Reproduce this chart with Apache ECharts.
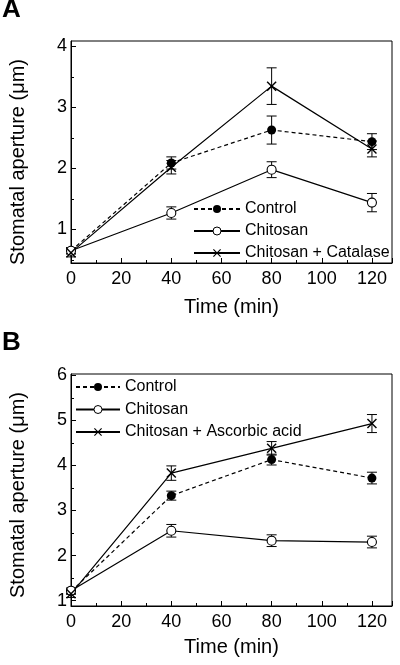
<!DOCTYPE html>
<html>
<head>
<meta charset="utf-8">
<script src="https://cdn.jsdelivr.net/npm/echarts@6/dist/echarts.min.js"></script>
<style>
html,body{margin:0;padding:0;background:#fff;}
#chart{width:400px;height:665px;}
</style>
</head>
<body>
<div id="chart"></div>
<script>
// ---- Data ----
const timeMin = [0, 40, 80, 120];

// Panel A
const controlA = [0.65, 2.09, 2.63, 2.44];
const controlAErr = [0.05, 0.10, 0.23, 0.13];
const chitosanA = [0.65, 1.27, 1.98, 1.44];
const chitosanAErr = [0.05, 0.10, 0.13, 0.15];
const catalaseA = [0.62, 2.02, 3.35, 2.32];
const catalaseAErr = [0.07, 0.11, 0.30, 0.13];
const yTicksA = [1, 2, 3, 4];
const yMinorA = [0.5, 1.5, 2.5, 3.5];

// Panel B
const controlB = [1.20, 3.33, 4.13, 3.72];
const controlBErr = [0.06, 0.10, 0.12, 0.13];
const chitosanB = [1.22, 2.55, 2.33, 2.30];
const chitosanBErr = [0.06, 0.14, 0.13, 0.13];
const ascorbicB = [1.15, 3.83, 4.38, 4.93];
const ascorbicBErr = [0.08, 0.16, 0.15, 0.20];
const yTicksB = [1, 2, 3, 4, 5, 6];
const yMinorB = [1.5, 2.5, 3.5, 4.5, 5.5];

const namesA = ['Control', 'Chitosan', 'Chitosan + Catalase'];
const namesB = ['Control', 'Chitosan', 'Chitosan + Ascorbic acid'];

// ---- Build ----
const FONT = 'Liberation Sans, Arial, Helvetica, sans-serif';
const X_PATH = 'path://M0,1L1,0L5,4L9,0L10,1L6,5L10,9L9,10L5,6L1,10L0,9L4,5Z';

function pts(vals) { return timeMin.map((t, i) => [t, vals[i]]); }
function errPts(vals, errs) { return timeMin.map((t, i) => [t, vals[i], errs[i]]); }

function errRender(params, api) {
  const x = api.value(0), y = api.value(1), e = api.value(2);
  const hi = api.coord([x, y + e]), lo = api.coord([x, y - e]);
  const w = 5;
  const style = { stroke: '#000', lineWidth: 1, fill: null };
  return {
    type: 'group', children: [
      { type: 'line', shape: { x1: hi[0], y1: hi[1], x2: lo[0], y2: lo[1] }, style },
      { type: 'line', shape: { x1: hi[0] - w, y1: hi[1], x2: hi[0] + w, y2: hi[1] }, style },
      { type: 'line', shape: { x1: lo[0] - w, y1: lo[1], x2: lo[0] + w, y2: lo[1] }, style }
    ]
  };
}

function xAxisDef(gridIndex, nameGap) {
  return {
    type: 'value', gridIndex, min: 0, max: 128, interval: 20,
    name: 'Time (min)', nameLocation: 'middle', nameGap,
    nameTextStyle: { fontFamily: FONT, fontSize: 20, color: '#000' },
    axisLine: { lineStyle: { color: '#000', width: 1 } },
    axisTick: { inside: true, length: 5, lineStyle: { color: '#000' } },
    minorTick: { show: true, splitNumber: 2, length: 3, lineStyle: { color: '#000' } },
    axisLabel: { fontFamily: FONT, fontSize: 18, color: '#000', margin: 7 },
    splitLine: { show: false }
  };
}

function yAxisMajor(gridIndex, min, max, ticks, padRight) {
  return {
    type: 'value', gridIndex, min, max, position: 'left',
    name: 'Stomatal aperture (\u03bcm)', nameLocation: 'middle', nameGap: 43,
    nameTextStyle: { fontFamily: FONT, fontSize: 20, color: '#000', padding: [0, padRight, 0, 0] },
    axisLine: { lineStyle: { color: '#000', width: 1 } },
    axisTick: { inside: true, length: 5, customValues: ticks, lineStyle: { color: '#000' } },
    axisLabel: { fontFamily: FONT, fontSize: 18, color: '#000', margin: 4, customValues: ticks },
    splitLine: { show: false }
  };
}

function yAxisMinor(gridIndex, min, max, ticks) {
  return {
    type: 'value', gridIndex, min, max, position: 'left',
    axisLine: { show: false },
    axisTick: { inside: true, length: 3, customValues: ticks, lineStyle: { color: '#000' } },
    axisLabel: { show: false },
    splitLine: { show: false }
  };
}

function lineSeries(name, vals, xi, yi, kind) {
  const base = {
    type: 'line', name, data: pts(vals), xAxisIndex: xi, yAxisIndex: yi,
    lineStyle: { color: '#000', width: 1.2, type: 'solid' },
    emphasis: { disabled: true }, z: 3
  };
  if (kind === 'filled') {
    base.symbol = 'circle'; base.symbolSize = 9;
    base.itemStyle = { color: '#000' };
    base.lineStyle.type = [4, 3];
  } else if (kind === 'open') {
    base.symbol = 'circle'; base.symbolSize = 9;
    base.itemStyle = { color: '#fff', borderColor: '#000', borderWidth: 1.1 };
  } else {
    base.symbol = X_PATH; base.symbolSize = 10;
    base.itemStyle = { color: '#000' };
  }
  return base;
}

function errSeries(id, vals, errs, xi, yi) {
  return {
    type: 'custom', name: id, data: errPts(vals, errs), xAxisIndex: xi, yAxisIndex: yi,
    renderItem: errRender, encode: { x: 0, y: 1 }, z: 2, silent: true
  };
}

const legendText = { fontFamily: FONT, fontSize: 16, color: '#000', lineHeight: 16 };
const legendItemStyle = { borderWidth: 1 };

const option = {
  animation: false,
  backgroundColor: '#fff',
  title: [
    { text: 'A', left: 2, top: -3, padding: 0, textStyle: { fontFamily: FONT, fontSize: 26, fontWeight: 'bold', color: '#000' } },
    { text: 'B', left: 2, top: 330, padding: 0, textStyle: { fontFamily: FONT, fontSize: 26, fontWeight: 'bold', color: '#000' } }
  ],
  grid: [
    { left: 67, right: 8, top: 41, height: 222, show: true, borderColor: '#000', borderWidth: 1, backgroundColor: 'transparent' },
    { left: 67, right: 8, top: 374, height: 232, show: true, borderColor: '#000', borderWidth: 1, backgroundColor: 'transparent' }
  ],
  xAxis: [xAxisDef(0, 34), xAxisDef(1, 31)],
  yAxis: [
    yAxisMajor(0, 0.45, 4.09, yTicksA, 20),
    yAxisMinor(0, 0.45, 4.09, yMinorA),
    yAxisMajor(1, 0.88, 6.03, yTicksB, 10),
    yAxisMinor(1, 0.88, 6.03, yMinorB)
  ],
  legend: [
    {
      data: namesA, orient: 'vertical', left: 193, top: 201,
      itemWidth: 46, itemHeight: 10, itemGap: 6, padding: 0,
      itemStyle: legendItemStyle,
      textStyle: legendText, selectedMode: false
    },
    {
      data: namesB, orient: 'vertical', left: 75, top: 379,
      itemWidth: 44, itemHeight: 10, itemGap: 6.5, padding: 0,
      itemStyle: legendItemStyle,
      textStyle: legendText, selectedMode: false
    }
  ],
  series: [
    errSeries('errA1', controlA, controlAErr, 0, 0),
    errSeries('errA2', chitosanA, chitosanAErr, 0, 0),
    errSeries('errA3', catalaseA, catalaseAErr, 0, 0),
    lineSeries(namesA[0], controlA, 0, 0, 'filled'),
    lineSeries(namesA[1], chitosanA, 0, 0, 'open'),
    lineSeries(namesA[2], catalaseA, 0, 0, 'x'),
    errSeries('errB1', controlB, controlBErr, 1, 2),
    errSeries('errB2', chitosanB, chitosanBErr, 1, 2),
    errSeries('errB3', ascorbicB, ascorbicBErr, 1, 2),
    lineSeries(namesB[0], controlB, 1, 2, 'filled'),
    lineSeries(namesB[1], chitosanB, 1, 2, 'open'),
    lineSeries(namesB[2], ascorbicB, 1, 2, 'x')
  ]
};

const chart = echarts.init(document.getElementById('chart'), null, { renderer: 'canvas' });
chart.setOption(option);
</script>
</body>
</html>
